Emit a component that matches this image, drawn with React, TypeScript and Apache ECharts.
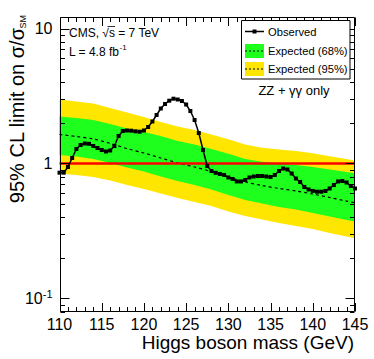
import React, { useEffect, useRef } from 'react';
import * as echarts from 'echarts';

const FONT = '"Liberation Sans", Arial, Helvetica, sans-serif';
const YELLOW = '#ffe600';
const GREEN = '#1eff1e';

// Observed limit (every 0.5 GeV)
const masses = [
  110, 110.5, 111, 111.5, 112, 112.5, 113, 113.5, 114, 114.5,
  115, 115.5, 116, 116.5, 117, 117.5, 118, 118.5, 119, 119.5,
  120, 120.5, 121, 121.5, 122, 122.5, 123, 123.5, 124, 124.5,
  125, 125.5, 126, 126.5, 127, 127.5, 128, 128.5, 129, 129.5,
  130, 130.5, 131, 131.5, 132, 132.5, 133, 133.5, 134, 134.5,
  135, 135.5, 136, 136.5, 137, 137.5, 138, 138.5, 139, 139.5,
  140, 140.5, 141, 141.5, 142, 142.5, 143, 143.5, 144, 144.5,
  145,
];
const observed = [
  0.855, 0.855, 0.942, 1.098, 1.28, 1.371, 1.406, 1.399, 1.348, 1.302,
  1.259, 1.227, 1.248, 1.348, 1.599, 1.741, 1.756, 1.75, 1.732, 1.72,
  1.756, 1.864, 2.047, 2.287, 2.555, 2.759, 2.919, 3.02, 2.979, 2.904,
  2.735, 2.447, 2.1, 1.683, 1.259, 0.958, 0.88, 0.853, 0.836, 0.822,
  0.788, 0.768, 0.736, 0.736, 0.755, 0.788, 0.801, 0.808, 0.808, 0.801,
  0.794, 0.822, 0.88, 0.918, 0.903, 0.843, 0.774, 0.729, 0.67, 0.642,
  0.626, 0.618, 0.618, 0.626, 0.653, 0.693, 0.736, 0.742, 0.723, 0.681,
  0.653,
];

// Expected limit and bands
const expMasses = [110, 112, 114, 116, 118, 120, 122, 124, 126, 128, 130, 132, 134, 136, 138, 140, 142, 144, 145];
const expMedian = [1.64, 1.585, 1.52, 1.41, 1.29, 1.196, 1.098, 1.01, 0.942, 0.872, 0.794, 0.73, 0.687, 0.653, 0.626, 0.594, 0.56, 0.527, 0.512];
const exp95Up = [2.98, 2.88, 2.78, 2.58, 2.39, 2.21, 2.03, 1.88, 1.77, 1.64, 1.51, 1.38, 1.31, 1.27, 1.24, 1.19, 1.13, 1.08, 1.05];
const exp68Up = [2.23, 2.17, 2.1, 1.96, 1.82, 1.71, 1.6, 1.47, 1.38, 1.28, 1.18, 1.08, 1.03, 1.0, 0.975, 0.942, 0.903, 0.865, 0.848];
const exp68Down = [1.156, 1.127, 1.08, 1.009, 0.934, 0.872, 0.801, 0.742, 0.693, 0.642, 0.584, 0.537, 0.506, 0.476, 0.456, 0.43, 0.405, 0.381, 0.371];
const exp95Down = [0.843, 0.822, 0.794, 0.748, 0.693, 0.647, 0.6, 0.555, 0.519, 0.484, 0.441, 0.409, 0.385, 0.362, 0.344, 0.327, 0.306, 0.288, 0.279];

const xTickLabels = ['110', '115', '120', '125', '130', '135', '140', '145'];
const xMinorStep = 1;
const yTickValues = [0.1, 1, 10];
const yTickLabels = ['{b|10}{s|-1}', '{b|1}', '{b|10}'];
const yMinorMultipliers = [2, 3, 4, 5, 6, 7, 8, 9];

const X_MIN = 110;
const X_MAX = 145;
const Y_MIN = 0.0794;
const Y_MAX = 12.17;

export default function App() {
  const ref = useRef<HTMLDivElement>(null);
  useEffect(() => {
    const chart = echarts.init(ref.current!, null, { renderer: 'svg' });
    const txt = (text: string, x: number, y: number, size: number, extra: any = {}) => ({
      type: 'text',
      x,
      y,
      z: 100,
      style: { text, fill: '#000', font: `${size}px ${FONT}`, verticalAlign: 'middle', ...extra },
    });
    chart.setOption({
      animation: false,
      backgroundColor: '#fff',
      grid: { left: 59.5, right: 19, top: 17, bottom: 47, containLabel: false },
      xAxis: {
        type: 'value',
        min: X_MIN,
        max: X_MAX,
        interval: 5,
        axisLine: { show: false },
        axisTick: { show: false },
        splitLine: { show: false },
        axisLabel: {
          margin: 5,
          fontSize: 16,
          lineHeight: 14,
          fontFamily: FONT,
          color: '#000',
          formatter: (v: number) => xTickLabels.find((l) => Number(l) === v) ?? '',
        },
      },
      yAxis: {
        type: 'log',
        logBase: 10,
        min: Y_MIN,
        max: Y_MAX,
        axisLine: { show: false },
        axisTick: { show: false },
        splitLine: { show: false },
        axisLabel: {
          margin: 7,
          color: '#000',
          formatter: (v: number) => {
            const i = yTickValues.findIndex((t) => Math.abs(Math.log10(v) - Math.log10(t)) < 0.01);
            return i >= 0 ? yTickLabels[i] : '';
          },
          rich: {
            b: { fontSize: 16, fontFamily: FONT, color: '#000', lineHeight: 20 },
            s: { fontSize: 11, fontFamily: FONT, color: '#000', lineHeight: 12, verticalAlign: 'top' },
          },
        },
      },
      series: [
        {
          type: 'custom',
          z: 1,
          silent: true,
          clip: false,
          data: [[X_MIN, 1]],
          renderItem: (_params: any, api: any) => {
            const pts = (arr: number[]) => expMasses.map((m, i) => api.coord([m, arr[i]]));
            const poly = (u: number[], d: number[], fill: string) => ({
              type: 'polygon',
              shape: { points: [...pts(u), ...pts(d).reverse()] },
              style: { fill },
            });
            return {
              type: 'group',
              children: [poly(exp95Up, exp95Down, YELLOW), poly(exp68Up, exp68Down, GREEN)],
            };
          },
        },
        {
          type: 'line',
          z: 3,
          silent: true,
          showSymbol: false,
          smooth: 0.3,
          data: expMasses.map((m, i) => [m, expMedian[i]]),
          lineStyle: { color: '#000', width: 1.2, type: [3, 3] },
        },
        {
          type: 'line',
          z: 4,
          silent: true,
          showSymbol: false,
          data: [[X_MIN, 1], [X_MAX, 1]],
          lineStyle: { color: '#ff0000', width: 2.5 },
        },
        {
          type: 'line',
          z: 5,
          silent: true,
          symbol: 'rect',
          symbolSize: 4,
          data: masses.map((m, i) => [m, observed[i]]),
          itemStyle: { color: '#000' },
          lineStyle: { color: '#000', width: 1.5 },
        },
        {
          type: 'custom',
          z: 10,
          silent: true,
          clip: false,
          data: [[X_MIN, 1]],
          renderItem: (params: any, api: any) => {
            const cs = params.coordSys;
            const L = Math.round(cs.x) + 0.5;
            const R = Math.round(cs.x + cs.width) - 0.5;
            const T = Math.round(cs.y) + 0.5;
            const B = Math.round(cs.y + cs.height) - 0.5;
            const st = { stroke: '#000', lineWidth: 1 };
            const children: any[] = [];
            for (let m = X_MIN; m <= X_MAX; m += xMinorStep) {
              const x = Math.round(api.coord([m, 1])[0]) + 0.5;
              const major = xTickLabels.includes(String(m));
              const len = major ? 8.5 : 4.5;
              children.push({ type: 'line', shape: { x1: x, y1: B, x2: x, y2: B - len }, style: st });
              children.push({ type: 'line', shape: { x1: x, y1: T, x2: x, y2: T + len }, style: st });
            }
            yTickValues.concat([0.01]).forEach((dec) => {
              [1, ...yMinorMultipliers].forEach((mult) => {
                const v = dec * mult;
                if (v < Y_MIN || v > Y_MAX) return;
                const y = Math.round(api.coord([X_MIN, v])[1]) + 0.5;
                const len = mult === 1 ? 9 : 4.5;
                children.push({ type: 'line', shape: { x1: L, y1: y, x2: L + len, y2: y }, style: st });
                children.push({ type: 'line', shape: { x1: R, y1: y, x2: R - len, y2: y }, style: st });
              });
            });
            children.push({
              type: 'rect',
              shape: { x: L, y: T, width: R - L, height: B - T },
              style: { fill: 'none', stroke: '#000', lineWidth: 1 },
            });
            return { type: 'group', children };
          },
        },
      ],
      graphic: [
        // axis titles
        {
          type: 'group',
          x: 17,
          y: 15,
          rotation: Math.PI / 2,
          z: 100,
          children: [
            {
              type: 'text',
              x: -13,
              y: 0,
              style: { text: '95% CL limit on σ/σ', fill: '#000', font: `20px ${FONT}`, align: 'right', verticalAlign: 'middle' },
            },
            {
              type: 'text',
              x: 0,
              y: 6,
              style: { text: 'SM', fill: '#000', font: `9px ${FONT}`, align: 'right', verticalAlign: 'middle' },
            },
          ],
        },
        txt('Higgs boson mass (GeV)', 354, 342, 19, { align: 'right', lineHeight: 18 }),
        // annotations
        txt('CMS, √s = 7 TeV', 69, 33, 12),
        { type: 'line', z: 100, shape: { x1: 107.5, y1: 26.5, x2: 115, y2: 26.5 }, style: { stroke: '#000', lineWidth: 0.8 } },
        txt('L = 4.8 fb', 69, 52, 12),
        txt('-1', 119.5, 47, 8),
        txt('ZZ + γγ only', 294, 90, 13, { align: 'center' }),
        // legend
        {
          type: 'rect',
          z: 90,
          shape: { x: 241.5, y: 20.5, width: 108.5, height: 58.5 },
          style: { fill: '#fff', stroke: '#000', lineWidth: 1 },
        },
        { type: 'line', z: 100, shape: { x1: 245, y1: 31.5, x2: 264, y2: 31.5 }, style: { stroke: '#000', lineWidth: 1.5 } },
        { type: 'rect', z: 100, shape: { x: 252.5, y: 29.5, width: 4, height: 4 }, style: { fill: '#000' } },
        txt('Observed', 268, 31.5, 11.2),
        { type: 'rect', z: 100, shape: { x: 245, y: 44, width: 19, height: 14 }, style: { fill: GREEN } },
        { type: 'line', z: 100, shape: { x1: 245, y1: 51, x2: 264, y2: 51 }, style: { stroke: '#000', lineWidth: 1, lineDash: [2, 2] } },
        txt('Expected (68%)', 268, 51, 11.2),
        { type: 'rect', z: 100, shape: { x: 245, y: 62, width: 19, height: 14 }, style: { fill: YELLOW } },
        { type: 'line', z: 100, shape: { x1: 245, y1: 69, x2: 264, y2: 69 }, style: { stroke: '#000', lineWidth: 1, lineDash: [2, 2] } },
        txt('Expected (95%)', 268, 69, 11.2),
      ],
    });
    return () => chart.dispose();
  }, []);
  return <div ref={ref} style={{ position: 'absolute', left: 0, top: 0, width: 374, height: 359 }} />;
}
